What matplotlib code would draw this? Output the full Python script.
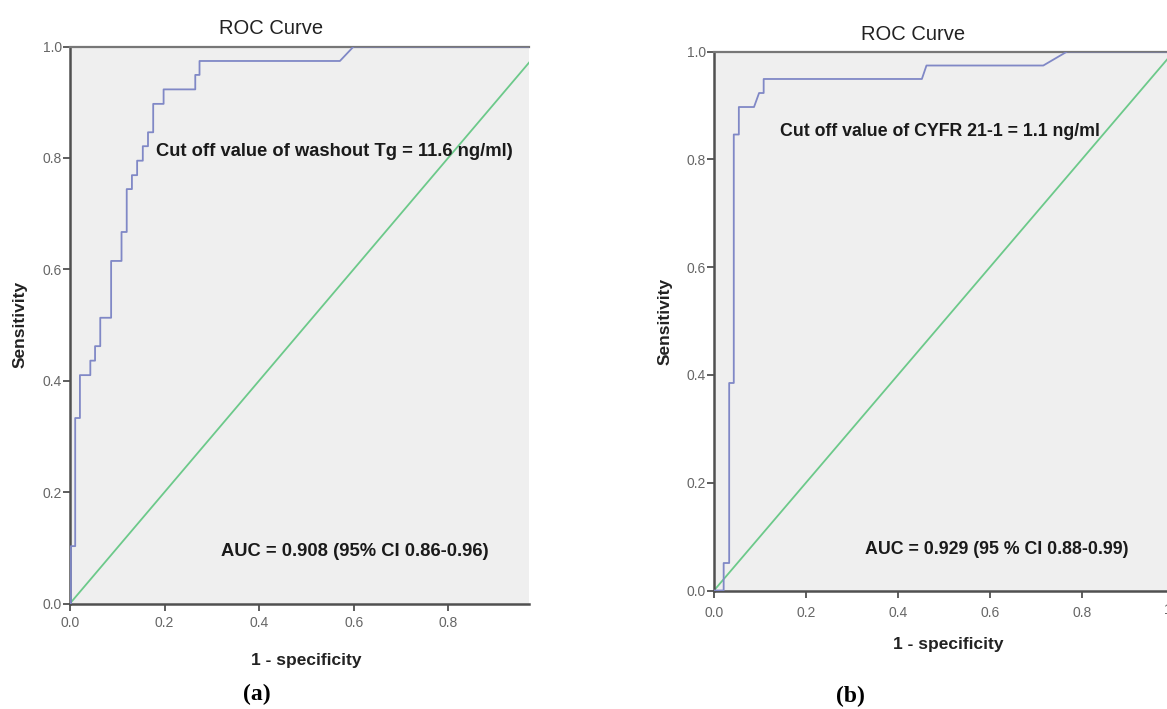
import matplotlib
matplotlib.use("Agg")
import matplotlib.pyplot as plt
from matplotlib import font_manager
from matplotlib.transforms import offset_copy

# ---------------- data ----------------
fpr_a = [0.0, 0.002, 0.002, 0.011, 0.011, 0.021, 0.021, 0.043, 0.043, 0.053, 0.053,
         0.064, 0.064, 0.087, 0.087, 0.109, 0.109, 0.120, 0.120, 0.131, 0.131,
         0.142, 0.142, 0.154, 0.154, 0.165, 0.165, 0.176, 0.176, 0.198, 0.198,
         0.265, 0.265, 0.274, 0.274, 0.571, 0.600, 1.0]
tpr_a = [0.0, 0.0, 0.103, 0.103, 0.333, 0.333, 0.410, 0.410, 0.436, 0.436, 0.462,
         0.462, 0.513, 0.513, 0.615, 0.615, 0.667, 0.667, 0.744, 0.744, 0.769,
         0.769, 0.795, 0.795, 0.821, 0.821, 0.846, 0.846, 0.897, 0.897, 0.923,
         0.923, 0.949, 0.949, 0.974, 0.974, 1.0, 1.0]

fpr_b = [0.0, 0.021, 0.021, 0.033, 0.033, 0.043, 0.043, 0.054, 0.054, 0.087,
         0.098, 0.108, 0.108, 0.452, 0.462, 0.716, 0.768, 1.0]
tpr_b = [0.0, 0.0, 0.051, 0.051, 0.385, 0.385, 0.846, 0.846, 0.897, 0.897,
         0.923, 0.923, 0.949, 0.949, 0.974, 0.974, 1.0, 1.0]

ref_line = [0.0, 1.0]
ticks = [0.0, 0.2, 0.4, 0.6, 0.8, 1.0]
tick_labels = ["0.0", "0.2", "0.4", "0.6", "0.8", "1.0"]

title = "ROC Curve"
xlabel = "1 - specificity"
ylabel = "Sensitivity"
cut_a = "Cut off value of washout Tg = 11.6 ng/ml)"
auc_a = "AUC = 0.908 (95% CI 0.86-0.96)"
cut_b = "Cut off value of CYFR 21-1 = 1.1 ng/ml"
auc_b = "AUC = 0.929 (95 % CI 0.88-0.99)"
panel_a = "(a)"
panel_b = "(b)"

# ---------------- style ----------------
names = {f.name for f in font_manager.fontManager.ttflist}
sans = "Liberation Sans Narrow" if "Liberation Sans Narrow" in names else "Liberation Sans"
plain = "Liberation Sans"
serif = "Liberation Serif"

W, H = 1167, 709
fig = plt.figure(figsize=(W / 100, H / 100), dpi=100)

BG = "#efefef"
CURVE = "#8088c6"
DIAG = "#6cc98a"
SPINE = "#505050"
TICKC = "#666666"


def px_axes(x0, y0, x1, y1):
    return fig.add_axes([x0 / W, 1 - y1 / H, (x1 - x0) / W, (y1 - y0) / H])


def make_panel(ax, xmax, fpr, tpr):
    ax.set_facecolor(BG)
    ax.plot(ref_line, ref_line, color=DIAG, lw=1.3, zorder=2)
    ax.plot(fpr, tpr, color=CURVE, lw=1.3, zorder=3)
    ax.set_xlim(0, xmax)
    ax.set_ylim(0, 1)
    ax.set_xticks(ticks[:-1])
    ax.set_xticklabels(tick_labels[:-1])
    ax.set_yticks(ticks)
    ax.set_yticklabels(tick_labels)
    for s in ["left", "bottom"]:
        ax.spines[s].set_color(SPINE)
        ax.spines[s].set_linewidth(1.8)
    ax.spines["top"].set_color("#777777")
    ax.spines["top"].set_linewidth(1.6)
    ax.spines["right"].set_visible(False)
    ax.tick_params(direction="out", length=5, width=1.3, color=SPINE,
                   labelcolor=TICKC, labelsize=10, pad=1)
    ax.tick_params(axis="x", pad=4)
    for lab in ax.get_xticklabels() + ax.get_yticklabels():
        lab.set_family(plain)


# Panel (a)
ax_a = px_axes(70, 46.5, 529, 603.5)
make_panel(ax_a, 0.971, fpr_a, tpr_a)

# Panel (b)
ax_b = px_axes(714, 51.5, 1167, 590.5)
make_panel(ax_b, 0.985, fpr_b, tpr_b)
ax_b.tick_params(axis="x", pad=6)
# the 1.0 tick label of panel (b) sits past the figure edge and is cut off
tr = offset_copy(ax_b.transData, fig=fig, x=0, y=-9, units="points")
fig.text(ticks[-1], 0, tick_labels[-1], transform=tr, ha="center", va="top",
         fontsize=10, color=TICKC, family=plain)


def ftext(x, y, s, **kw):
    fig.text(x / W, 1 - y / H, s, **kw)


# titles
ftext(271, 28, title, ha="center", va="center", fontsize=14.5, family=plain, color="#222222")
ftext(913, 35, title, ha="center", va="center", fontsize=14.5, family=plain, color="#222222")

# axis labels
ftext(20, 324, ylabel, ha="center", va="center", rotation=90, fontsize=12.5,
      fontweight="bold", family=plain, color="#222222")
ftext(665, 321, ylabel, ha="center", va="center", rotation=90, fontsize=12.5,
      fontweight="bold", family=plain, color="#222222")
ftext(306, 661, xlabel, ha="center", va="center", fontsize=12.5, fontweight="bold",
      family=plain, color="#222222")
ftext(948, 645, xlabel, ha="center", va="center", fontsize=12.5, fontweight="bold",
      family=plain, color="#222222")

# annotations
ftext(156, 151, cut_a, ha="left", va="center", fontsize=13.2, fontweight="bold",
      family=sans, color="#1a1a1a")
ftext(221, 552, auc_a, ha="left", va="center", fontsize=13.2, fontweight="bold",
      family=sans, color="#1a1a1a")
ftext(780, 132, cut_b, ha="left", va="center", fontsize=12.8, fontweight="bold",
      family=sans, color="#1a1a1a")
ftext(865, 549, auc_b, ha="left", va="center", fontsize=12.8, fontweight="bold",
      family=sans, color="#1a1a1a")

# panel letters
ftext(257, 694, panel_a, ha="center", va="center", fontsize=17, fontweight="bold",
      family=serif, color="#000000")
ftext(850, 696, panel_b, ha="center", va="center", fontsize=17, fontweight="bold",
      family=serif, color="#000000")

fig.savefig("out.png", dpi=100, facecolor="white")
